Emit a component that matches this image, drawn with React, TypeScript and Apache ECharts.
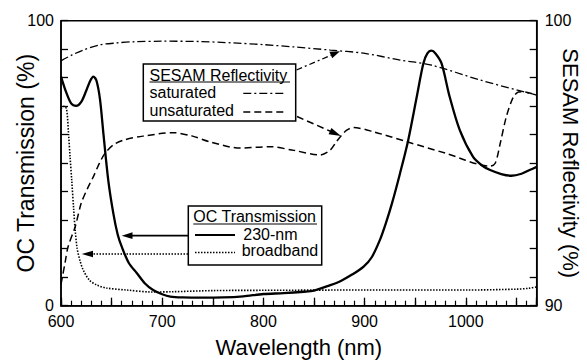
import React, { useEffect, useRef } from "react";
import * as echarts from "echarts";

// ---------- data ----------
// OC transmission, 230-nm output coupler (left axis, %)
const oc230: [number, number][] = [
  [600, 80.4], [605, 75], [610, 71], [615, 70.1], [620, 71.5], [625, 75.5], [629, 79],
  [632, 80.4], [635, 79], [638.5, 72.5], [642, 60], [646.7, 44], [651.7, 32.4], [656, 25],
  [660, 20.7], [667, 15], [675, 11.4], [683, 7.8], [691, 5.5], [700, 4.0], [708, 3.2],
  [720, 2.9], [740, 2.8], [760, 2.9], [780, 3.3], [800, 4.1], [820, 4.4], [840, 4.9],
  [850, 5.3], [866, 7.2], [876, 8.6], [888, 11], [899, 13.7], [907, 17], [915, 23],
  [921, 29], [927, 35.9], [935, 46.5], [943, 58], [951.5, 73.3], [958, 85], [962, 88.5],
  [966, 89.5], [970, 88.5], [976, 85], [984, 73.3], [994, 61.6], [1007, 52.3],
  [1016, 49.2], [1024, 47.6], [1035, 46.2], [1045, 45.6], [1055, 46.3], [1063, 47.6],
  [1070, 48.7],
];
// OC transmission, broadband output coupler (left axis, %)
const ocBroadband: [number, number][] = [
  [600, 69], [603, 70], [605.5, 69], [607.5, 60], [609, 52], [610.6, 44], [612.5, 34],
  [614, 26.6], [616, 20], [619, 15.5], [622, 12.5], [628, 9], [635, 7.3], [645, 6.2],
  [665, 5.5], [690, 4.8], [710, 4.9], [750, 5.3], [800, 5.4], [900, 5.5], [1000, 5.5],
  [1050, 5.8], [1062, 6.1], [1070, 6.6],
];
// SESAM reflectivity, saturated (right axis, %)
const sesamSaturated: [number, number][] = [
  [600, 98.59], [611, 98.8], [622, 98.97], [638, 99.15], [655, 99.22], [671, 99.26],
  [700, 99.28], [737, 99.27], [770, 99.22], [800, 99.16], [830, 99.08], [866, 98.97],
  [899, 98.86], [935, 98.62], [965, 98.45], [1014, 97.92], [1050, 97.57], [1070, 97.39],
];
// SESAM reflectivity, unsaturated (right axis, %)
const sesamUnsaturated: [number, number][] = [
  [600, 90.75], [604, 91.5], [607, 92.07], [614, 92.77], [620, 93.6], [626, 94.1],
  [632, 94.53], [638, 95.0], [643.5, 95.35], [652, 95.65], [661.6, 95.81], [681, 95.95],
  [711, 96.07], [730, 95.95], [747, 95.75], [777, 95.53], [806, 95.58], [830, 95.45],
  [856, 95.29], [866, 95.46], [872, 95.75], [876, 95.93], [882, 96.15], [889, 96.25],
  [909, 96.1], [942, 95.75], [980, 95.35], [1024, 94.9], [1029, 95.0], [1034, 95.7],
  [1040, 96.63], [1047, 97.33], [1052, 97.5], [1055, 97.51], [1070, 97.39],
];

const xLabels = [600, 700, 800, 900, 1000];
const leftLabels = [0, 100];
const rightLabels = [90, 100];

const FONT = "'Liberation Sans', Arial, Helvetica, sans-serif";

export default function App() {
  const ref = useRef<HTMLDivElement>(null);
  useEffect(() => {
    if (!ref.current) return;
    const chart = echarts.init(ref.current, null, { renderer: "svg" });
    const black = "#000";
    const legendText = (x: number, y: number, text: string) => ({
      type: "text", x, y,
      style: { text, fill: black, font: `16px ${FONT}`, verticalAlign: "middle", align: "left" },
    });
    const line = (x1: number, y1: number, x2: number, y2: number, width: number, dash?: number[]) => ({
      type: "line",
      shape: { x1, y1, x2, y2 },
      style: { stroke: black, lineWidth: width, lineDash: dash || null },
    });
    const head = (pts: number[][]) => ({
      type: "polygon", shape: { points: pts }, style: { fill: black },
    });

    const option: any = {
      animation: false,
      backgroundColor: "#fff",
      textStyle: { fontFamily: FONT, color: black },
      grid: {
        left: 61, right: 50.3, top: 20.7, bottom: 54.3,
        containLabel: false, outerBoundsMode: "none",
        show: true, borderColor: black, borderWidth: 1.5, backgroundColor: "transparent",
      },
      xAxis: [
        {
          type: "value", min: 600, max: 1070, interval: 50, position: "bottom",
          name: "Wavelength (nm)", nameLocation: "middle", nameGap: 31, nameMoveOverlap: false,
          nameTextStyle: { fontSize: 22, color: black, fontFamily: FONT },
          axisLine: { lineStyle: { color: black, width: 1.5 } },
          axisTick: { inside: true, length: 8, lineStyle: { color: black, width: 1.3 } },
          axisLabel: {
            fontSize: 16, color: black, margin: 8, fontFamily: FONT,
            formatter: (v: number) => (xLabels.includes(v) ? String(v) : ""),
          },
          splitLine: { show: false },
        },
        {
          type: "value", min: 600, max: 1070, interval: 10, position: "bottom",
          axisLine: { show: false },
          axisTick: { inside: true, length: 5, lineStyle: { color: black, width: 1.2 } },
          axisLabel: { show: false },
          splitLine: { show: false },
        },
      ],
      yAxis: [
        {
          type: "value", min: 0, max: 100, interval: 10, position: "left",
          name: "OC Transmission (%)", nameLocation: "middle", nameGap: 24, nameRotate: 90,
          nameMoveOverlap: false,
          nameTextStyle: { fontSize: 23, color: black, fontFamily: FONT },
          axisLine: { show: true, lineStyle: { color: black, width: 1.5 } },
          axisTick: { inside: true, length: 7, lineStyle: { color: black, width: 1.3 } },
          axisLabel: {
            fontSize: 16, color: black, margin: 7, fontFamily: FONT,
            formatter: (v: number) => (leftLabels.includes(v) ? String(v) : ""),
          },
          splitLine: { show: false },
        },
        {
          type: "value", min: 90, max: 100, interval: 1, position: "right",
          name: "SESAM Reflectivity (%)", nameLocation: "middle", nameGap: 23, nameRotate: -90,
          nameMoveOverlap: false,
          nameTextStyle: { fontSize: 22, color: black, fontFamily: FONT },
          axisLine: { show: true, lineStyle: { color: black, width: 1.5 } },
          axisTick: { inside: true, length: 7, lineStyle: { color: black, width: 1.3 } },
          axisLabel: {
            fontSize: 16, color: black, margin: 8, fontFamily: FONT,
            formatter: (v: number) => (rightLabels.includes(v) ? String(v) : ""),
          },
          splitLine: { show: false },
        },
      ],
      series: [
        {
          name: "saturated", type: "line", xAxisIndex: 0, yAxisIndex: 1, data: sesamSaturated,
          showSymbol: false, smooth: 0.3,
          lineStyle: { color: black, width: 1.3, type: [8, 3, 2, 3] },
        },
        {
          name: "unsaturated", type: "line", xAxisIndex: 0, yAxisIndex: 1, data: sesamUnsaturated,
          showSymbol: false, smooth: 0.3,
          lineStyle: { color: black, width: 1.5, type: [7, 4] },
        },
        {
          name: "broadband", type: "line", xAxisIndex: 0, yAxisIndex: 0, data: ocBroadband,
          showSymbol: false, smooth: 0.3,
          lineStyle: { color: black, width: 1.6, type: [1.5, 1.5] },
        },
        {
          name: "230-nm", type: "line", xAxisIndex: 0, yAxisIndex: 0, data: oc230,
          showSymbol: false, smooth: 0.3,
          lineStyle: { color: black, width: 2.3, type: "solid" },
        },
      ],
      graphic: [
        // SESAM legend box
        { type: "rect", shape: { x: 143.3, y: 64, width: 152.4, height: 57 },
          style: { fill: "#fff", stroke: black, lineWidth: 1.5 }, z: 100 },
        { ...legendText(149.5, 75.2, "SESAM Reflectivity"), z: 101 },
        { ...line(149.5, 82, 290, 82, 1), z: 101 },
        { ...legendText(149.5, 92.8, "saturated"), z: 101 },
        { ...legendText(149.5, 110.5, "unsaturated"), z: 101 },
        { ...line(243.3, 93.3, 283.3, 93.3, 1.3, [8, 3, 2, 3]), z: 101 },
        { ...line(243.3, 112, 283.3, 112, 1.5, [7, 4]), z: 101 },
        // SESAM arrows
        { ...line(296.5, 70, 331, 55.3, 1.3, [6, 3, 2, 3]), z: 101 },
        { ...head([[340, 51.3], [332.2, 58.2], [329.4, 51.8]]), z: 101 },
        { ...line(297, 116.5, 331, 131.5, 1.5, [7, 4]), z: 101 },
        { ...head([[341, 136], [328.6, 134.3], [331.4, 127.9]]), z: 101 },
        // OC legend box
        { type: "rect", shape: { x: 188.3, y: 206, width: 133.4, height: 59 },
          style: { fill: "#fff", stroke: black, lineWidth: 1.5 }, z: 100 },
        { ...legendText(193.3, 216.2, "OC Transmission"), z: 101 },
        { ...line(193.3, 224, 317, 224, 1), z: 101 },
        { ...legendText(243.3, 234.5, "230-nm"), z: 101 },
        { ...legendText(241.7, 250.5, "broadband"), z: 101 },
        { ...line(195, 235, 235, 235, 1.8), z: 101 },
        { ...line(195, 252.5, 235, 252.5, 1.4, [1.5, 1.5]), z: 101 },
        // OC arrows
        { ...line(188, 235.7, 131, 235.7, 1.8), z: 101 },
        { ...head([[121.7, 235.7], [132.5, 232.3], [132.5, 239.1]]), z: 101 },
        { ...line(188, 254, 92, 254, 1.4, [1.5, 1.5]), z: 101 },
        { ...head([[81.7, 254], [93, 250.8], [93, 257.2]]), z: 101 },
      ],
    };
    chart.setOption(option);
    return () => chart.dispose();
  }, []);
  return (
    <div
      ref={ref}
      style={{ position: "absolute", left: 0, top: 0, width: 587, height: 360, background: "#fff" }}
    />
  );
}
